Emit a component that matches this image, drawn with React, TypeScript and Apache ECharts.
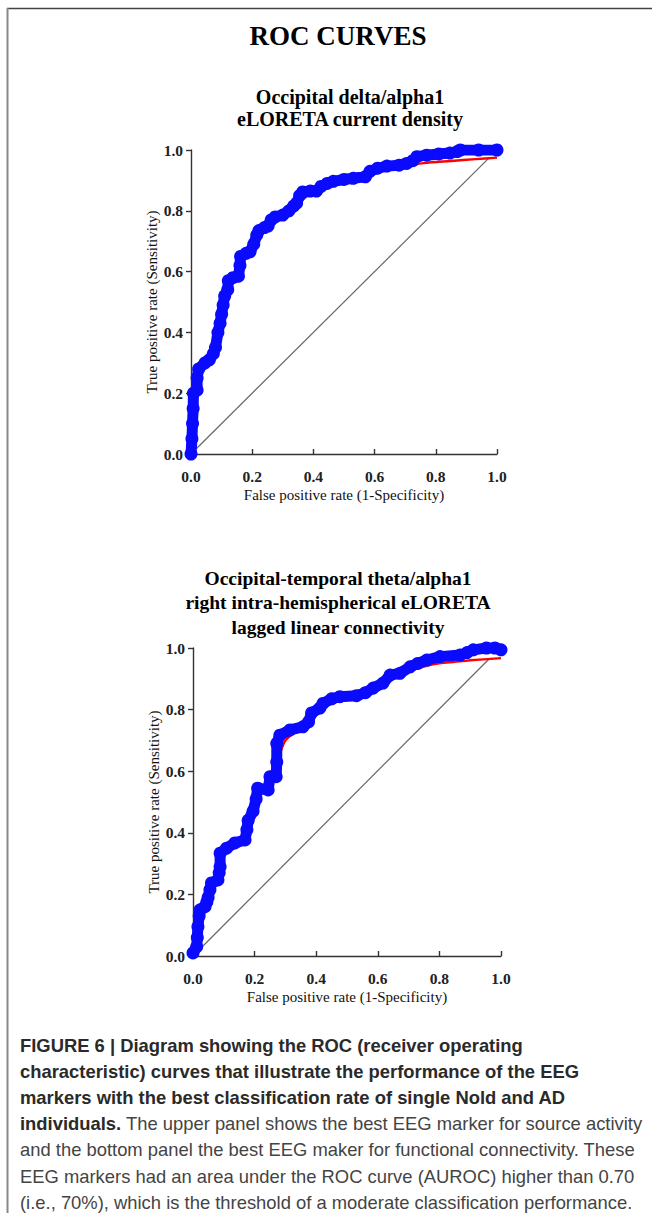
import React, { useEffect, useRef } from "react";
import * as echarts from "echarts";

const tickValues = [0, 0.2, 0.4, 0.6, 0.8, 1.0];

const topBlue: [number, number][] = [
  [0, 0], [0.003, 0.05], [0.005, 0.1], [0.007, 0.15], [0.008, 0.2], [0.02, 0.21], [0.02, 0.25], [0.025, 0.28],
  [0.046, 0.3], [0.06, 0.31], [0.073, 0.33], [0.08, 0.35], [0.088, 0.4], [0.095, 0.43], [0.1, 0.46], [0.105, 0.49],
  [0.11, 0.52], [0.12, 0.54], [0.122, 0.57], [0.137, 0.58], [0.155, 0.585], [0.16, 0.62], [0.162, 0.65], [0.18, 0.66],
  [0.193, 0.665], [0.205, 0.69], [0.215, 0.72], [0.222, 0.735], [0.24, 0.745], [0.252, 0.75], [0.262, 0.77], [0.275, 0.78],
  [0.3, 0.786], [0.32, 0.8], [0.335, 0.815], [0.345, 0.825], [0.355, 0.85], [0.365, 0.862], [0.39, 0.865], [0.41, 0.865],
  [0.425, 0.88], [0.445, 0.89], [0.465, 0.897], [0.5, 0.903], [0.53, 0.907], [0.57, 0.912], [0.585, 0.93], [0.61, 0.94],
  [0.64, 0.947], [0.68, 0.95], [0.705, 0.956], [0.725, 0.965], [0.738, 0.978], [0.77, 0.983], [0.81, 0.987], [0.846, 0.99],
  [0.87, 0.995], [0.88, 1.0], [0.94, 1.0], [1.0, 1.0],
];

const topRed: [number, number][] = [
  [0, 0], [0.005, 0.05], [0.01, 0.1], [0.015, 0.15], [0.02, 0.2], [0.03, 0.26], [0.05, 0.3], [0.07, 0.33],
  [0.085, 0.38], [0.1, 0.45], [0.12, 0.53], [0.14, 0.58], [0.16, 0.63], [0.2, 0.68], [0.25, 0.75], [0.3, 0.79],
  [0.35, 0.83], [0.4, 0.86], [0.45, 0.89], [0.5, 0.9], [0.6, 0.925], [0.7, 0.948], [0.76, 0.957], [0.85, 0.964],
  [0.93, 0.97], [1.0, 0.975],
];

const topDiagonal: [number, number][] = [[0, 0], [0.975, 0.975]];

const bottomBlue: [number, number][] = [
  [0, 0.01], [0.012, 0.03], [0.014, 0.06], [0.016, 0.095], [0.02, 0.13], [0.023, 0.15], [0.039, 0.16], [0.045, 0.175],
  [0.049, 0.19], [0.055, 0.215], [0.06, 0.237], [0.081, 0.247], [0.085, 0.27], [0.088, 0.29], [0.088, 0.334], [0.109, 0.35],
  [0.136, 0.367], [0.169, 0.377], [0.175, 0.41], [0.179, 0.44], [0.195, 0.47], [0.205, 0.51], [0.21, 0.545], [0.244, 0.539],
  [0.25, 0.582], [0.27, 0.582], [0.272, 0.63], [0.272, 0.69], [0.282, 0.717], [0.315, 0.734], [0.357, 0.744], [0.375, 0.76],
  [0.385, 0.789], [0.412, 0.805], [0.422, 0.82], [0.45, 0.835], [0.477, 0.842], [0.531, 0.845], [0.56, 0.855], [0.585, 0.87],
  [0.617, 0.886], [0.64, 0.912], [0.672, 0.918], [0.705, 0.939], [0.73, 0.95], [0.759, 0.961], [0.802, 0.972], [0.867, 0.977],
  [0.89, 0.985], [0.91, 0.994], [0.953, 1.0], [0.98, 1.0], [1.0, 0.994],
];

const bottomRed: [number, number][] = [
  [0, 0], [0.02, 0.08], [0.04, 0.15], [0.06, 0.22], [0.08, 0.27], [0.1, 0.33], [0.13, 0.36], [0.16, 0.39],
  [0.19, 0.46], [0.22, 0.53], [0.25, 0.59], [0.28, 0.65], [0.3, 0.7], [0.35, 0.74], [0.4, 0.79], [0.45, 0.83],
  [0.5, 0.845], [0.55, 0.855], [0.6, 0.875], [0.65, 0.9], [0.7, 0.925], [0.75, 0.94], [0.8, 0.95], [0.85, 0.955],
  [0.9, 0.96], [1.0, 0.967],
];

const bottomDiagonal: [number, number][] = [[0, 0], [0.962, 0.965]];

const mainTitle = "ROC CURVES";
const topTitleLines = ["Occipital delta/alpha1", "eLORETA current density"];
const bottomTitleLines = ["Occipital-temporal theta/alpha1", "right intra-hemispherical eLORETA", "lagged linear connectivity"];
const xAxisTitle = "False positive rate (1-Specificity)";
const yAxisTitle = "True positive rate (Sensitivity)";

const captionBold = [
  "FIGURE 6 | Diagram showing the ROC (receiver operating",
  "characteristic) curves that illustrate the performance of the EEG",
  "markers with the best classification rate of single Nold and AD",
];
const captionMixedBold = "individuals.";
const captionMixedRest = " The upper panel shows the best EEG marker for source activity";
const captionNormal = [
  "and the bottom panel the best EEG maker for functional connectivity. These",
  "EEG markers had an area under the ROC curve (AUROC) higher than 0.70",
  "(i.e., 70%), which is the threshold of a moderate classification performance.",
];

const SERIF = "'Liberation Serif', 'Times New Roman', serif";
const SANS = "'Liberation Sans', Arial, Helvetica, sans-serif";
const CAP_SIZE = 18.4;

function makeAxis(gridIndex: number, isX: boolean) {
  return {
    type: "value",
    gridIndex,
    min: 0,
    max: 1,
    interval: 0.2,
    name: isX ? xAxisTitle : yAxisTitle,
    nameLocation: "middle",
    nameGap: isX ? 33 : 28,
    nameTextStyle: { fontFamily: SERIF, fontSize: 15, color: "#111" },
    axisLine: { show: true, lineStyle: { color: "#333", width: 1.4 } },
    axisTick: { show: true, inside: isX, length: 5, lineStyle: { color: "#333", width: 1.4 } },
    axisLabel: {
      fontFamily: SERIF,
      fontSize: 15.5,
      fontWeight: "bold",
      color: "#222",
      margin: isX ? 14 : 8,
      formatter: (v: number) => (tickValues.some((t) => Math.abs(t - v) < 1e-6) ? v.toFixed(1) : ""),
    },
    splitLine: { show: false },
  };
}

function curveSeries(idx: number, blue: [number, number][], red: [number, number][], diag: [number, number][]) {
  return [
    {
      type: "line",
      xAxisIndex: idx,
      yAxisIndex: idx,
      data: diag,
      symbol: "none",
      lineStyle: { color: "#666", width: 1.2 },
      z: 1,
    },
    {
      type: "line",
      xAxisIndex: idx,
      yAxisIndex: idx,
      data: red,
      symbol: "none",
      smooth: 0.3,
      lineStyle: { color: "#ff0000", width: 2.4 },
      z: 2,
    },
    {
      type: "line",
      xAxisIndex: idx,
      yAxisIndex: idx,
      data: blue,
      symbol: "circle",
      symbolSize: 13,
      itemStyle: { color: "#0a0aff" },
      lineStyle: { color: "#0a0aff", width: 11, cap: "round", join: "round" },
      z: 3,
    },
  ];
}

export default function App() {
  const ref = useRef<HTMLDivElement>(null);
  useEffect(() => {
    if (!ref.current) return;
    const chart = echarts.init(ref.current, undefined, { renderer: "svg" });

    const graphics: any[] = [
      { type: "line", shape: { x1: 7, y1: 8.5, x2: 652, y2: 8.5 }, style: { stroke: "#444", lineWidth: 1.5 } },
      { type: "line", shape: { x1: 7.5, y1: 8, x2: 7.5, y2: 1213 }, style: { stroke: "#888", lineWidth: 2 } },
      {
        type: "text",
        x: 338,
        y: 36,
        style: { text: mainTitle, fontFamily: SERIF, fontWeight: "bold", fontSize: 27, fill: "#000", textAlign: "center", textVerticalAlign: "middle" },
      },
    ];
    topTitleLines.forEach((t, i) => {
      graphics.push({
        type: "text",
        x: 350,
        y: 97 + i * 22,
        style: { text: t, fontFamily: SERIF, fontWeight: "bold", fontSize: 20, fill: "#000", textAlign: "center", textVerticalAlign: "middle" },
      });
    });
    bottomTitleLines.forEach((t, i) => {
      graphics.push({
        type: "text",
        x: 338,
        y: 578 + i * 24.5,
        style: { text: t, fontFamily: SERIF, fontWeight: "bold", fontSize: 19.5, fill: "#000", textAlign: "center", textVerticalAlign: "middle" },
      });
    });
    const capY0 = 1045;
    const capStep = 26.2;
    captionBold.forEach((t, i) => {
      graphics.push({
        type: "text",
        x: 20,
        y: capY0 + i * capStep,
        style: { text: t, fontFamily: SANS, fontWeight: "bold", fontSize: CAP_SIZE, fill: "#2a2a2a", textVerticalAlign: "middle" },
      });
    });
    graphics.push({
      type: "text",
      x: 20,
      y: capY0 + 3 * capStep,
      style: {
        text: "{b|" + captionMixedBold + "}{n|" + captionMixedRest + "}",
        textVerticalAlign: "middle",
        rich: {
          b: { fontFamily: SANS, fontWeight: "bold", fontSize: CAP_SIZE, fill: "#2a2a2a" },
          n: { fontFamily: SANS, fontSize: CAP_SIZE, fill: "#444" },
        },
      },
    });
    captionNormal.forEach((t, i) => {
      graphics.push({
        type: "text",
        x: 20,
        y: capY0 + (4 + i) * capStep,
        style: { text: t, fontFamily: SANS, fontSize: CAP_SIZE, fill: "#444", textVerticalAlign: "middle" },
      });
    });

    chart.setOption({
      animation: false,
      backgroundColor: "#fff",
      grid: [
        { left: 191, top: 150, width: 306, height: 304 },
        { left: 193, top: 648, width: 308, height: 308 },
      ],
      xAxis: [makeAxis(0, true), makeAxis(1, true)],
      yAxis: [makeAxis(0, false), makeAxis(1, false)],
      series: [
        ...curveSeries(0, topBlue, topRed, topDiagonal),
        ...curveSeries(1, bottomBlue, bottomRed, bottomDiagonal),
      ],
      graphic: graphics,
    });
    return () => chart.dispose();
  }, []);
  return <div ref={ref} style={{ position: "absolute", left: 0, top: 0, width: 652, height: 1213 }} />;
}
